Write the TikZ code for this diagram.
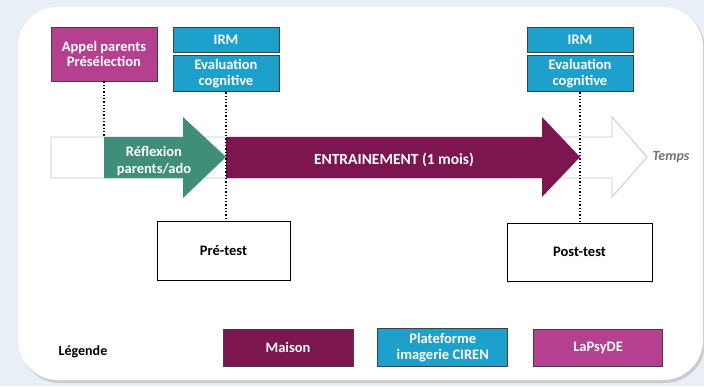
\documentclass[tikz,border=0pt]{standalone}
\usepackage{fontspec}
\setmainfont{Carlito}
\usetikzlibrary{positioning}
\definecolor{bgblue}{RGB}{233,239,246}
\definecolor{lapsyde}{RGB}{181,64,143}
\definecolor{ciren}{RGB}{30,160,205}
\definecolor{maison}{RGB}{124,21,80}
\definecolor{reflex}{RGB}{63,142,122}
\tikzset{
  colbox/.style={draw=black!75, line width=0.8pt, text=white, align=center, inner sep=0pt,
    font=\bfseries\fontsize{14.5}{15.5}\selectfont},
  testbox/.style={draw=black, line width=1pt, fill=white, inner sep=0pt,
    font=\bfseries\fontsize{14.5}{16}\selectfont},
  link/.style={dotted, line width=1.3pt},
}
\begin{document}
\begin{tikzpicture}[x=1pt, y=-1pt]
  \useasboundingbox[fill=bgblue] (0,0) rectangle (704,386);
  % panel
  \fill[gray!40, rounded corners=40pt] (20,9) rectangle (705,383);
  \fill[white, rounded corners=40pt] (18,7) rectangle (703,380);
  % time line
  \draw[gray!45, fill=white, line width=0.8pt] (51,137) -- (612,137) -- (612,117) -- (647,157)
    -- (612,197) -- (612,178) -- (51,178) -- cycle;
  \node[font=\itshape\bfseries\fontsize{14}{16}\selectfont, text=black!55] (temps) at (671,157) {Temps};
  % phases
  \fill[reflex] (104,137) -- (183,137) -- (183,117) -- (226,157) -- (183,198) -- (183,178) -- (104,178) -- cycle;
  \node[font=\bfseries\fontsize{14.5}{17}\selectfont, text=white, align=center] (reflexion) at (154,161) {Réflexion\\parents/ado};
  \fill[maison] (226,137) -- (542,137) -- (542,117) -- (580,157) -- (542,197) -- (542,178) -- (226,178) -- cycle;
  \node[font=\bfseries\fontsize{15.5}{17}\selectfont, text=white] (entrain) at (394,160) {ENTRAINEMENT (1 mois)};
  % events
  \node[colbox, fill=lapsyde, minimum width=106pt, minimum height=54pt] (appel) at (104,54) {Appel parents\\Présélection};
  \node[colbox, fill=ciren, minimum width=106pt, minimum height=25pt] (irmA) at (226,39.5) {IRM};
  \node[colbox, fill=ciren, minimum width=106pt, minimum height=36pt, below=3pt of irmA] (evalA) {Evaluation\\cognitive};
  \node[colbox, fill=ciren, minimum width=106pt, minimum height=25pt] (irmB) at (580,39.5) {IRM};
  \node[colbox, fill=ciren, minimum width=106pt, minimum height=36pt, below=3pt of irmB] (evalB) {Evaluation\\cognitive};
  \node[testbox, minimum width=133pt, minimum height=59pt] (pre) at (223.5,250.5) {Pré-test};
  \node[testbox, minimum width=145pt, minimum height=58pt] (post) at (579.5,252) {Post-test};
  \coordinate (start) at (104,137);
  \draw[link] (appel.south) -- (start);
  \draw[link] (evalA.south) -- (evalA.south |- pre.north);
  \draw[link] (evalB.south) -- (evalB.south |- post.north);
  % legend
  \node[font=\bfseries\fontsize{14}{16}\selectfont] (legende) at (83,352) {Légende};
  \node[colbox, fill=maison, minimum width=130pt, minimum height=37pt] (maisonkey) at (288,347.5) {Maison};
  \node[colbox, fill=ciren, minimum width=130pt, minimum height=38pt, right=24pt of maisonkey] (cirenkey) {Plateforme\\imagerie CIREN};
  \node[colbox, fill=lapsyde, minimum width=129pt, minimum height=37pt, right=25pt of cirenkey] (lapsydekey) {LaPsyDE};
\end{tikzpicture}
\end{document}
